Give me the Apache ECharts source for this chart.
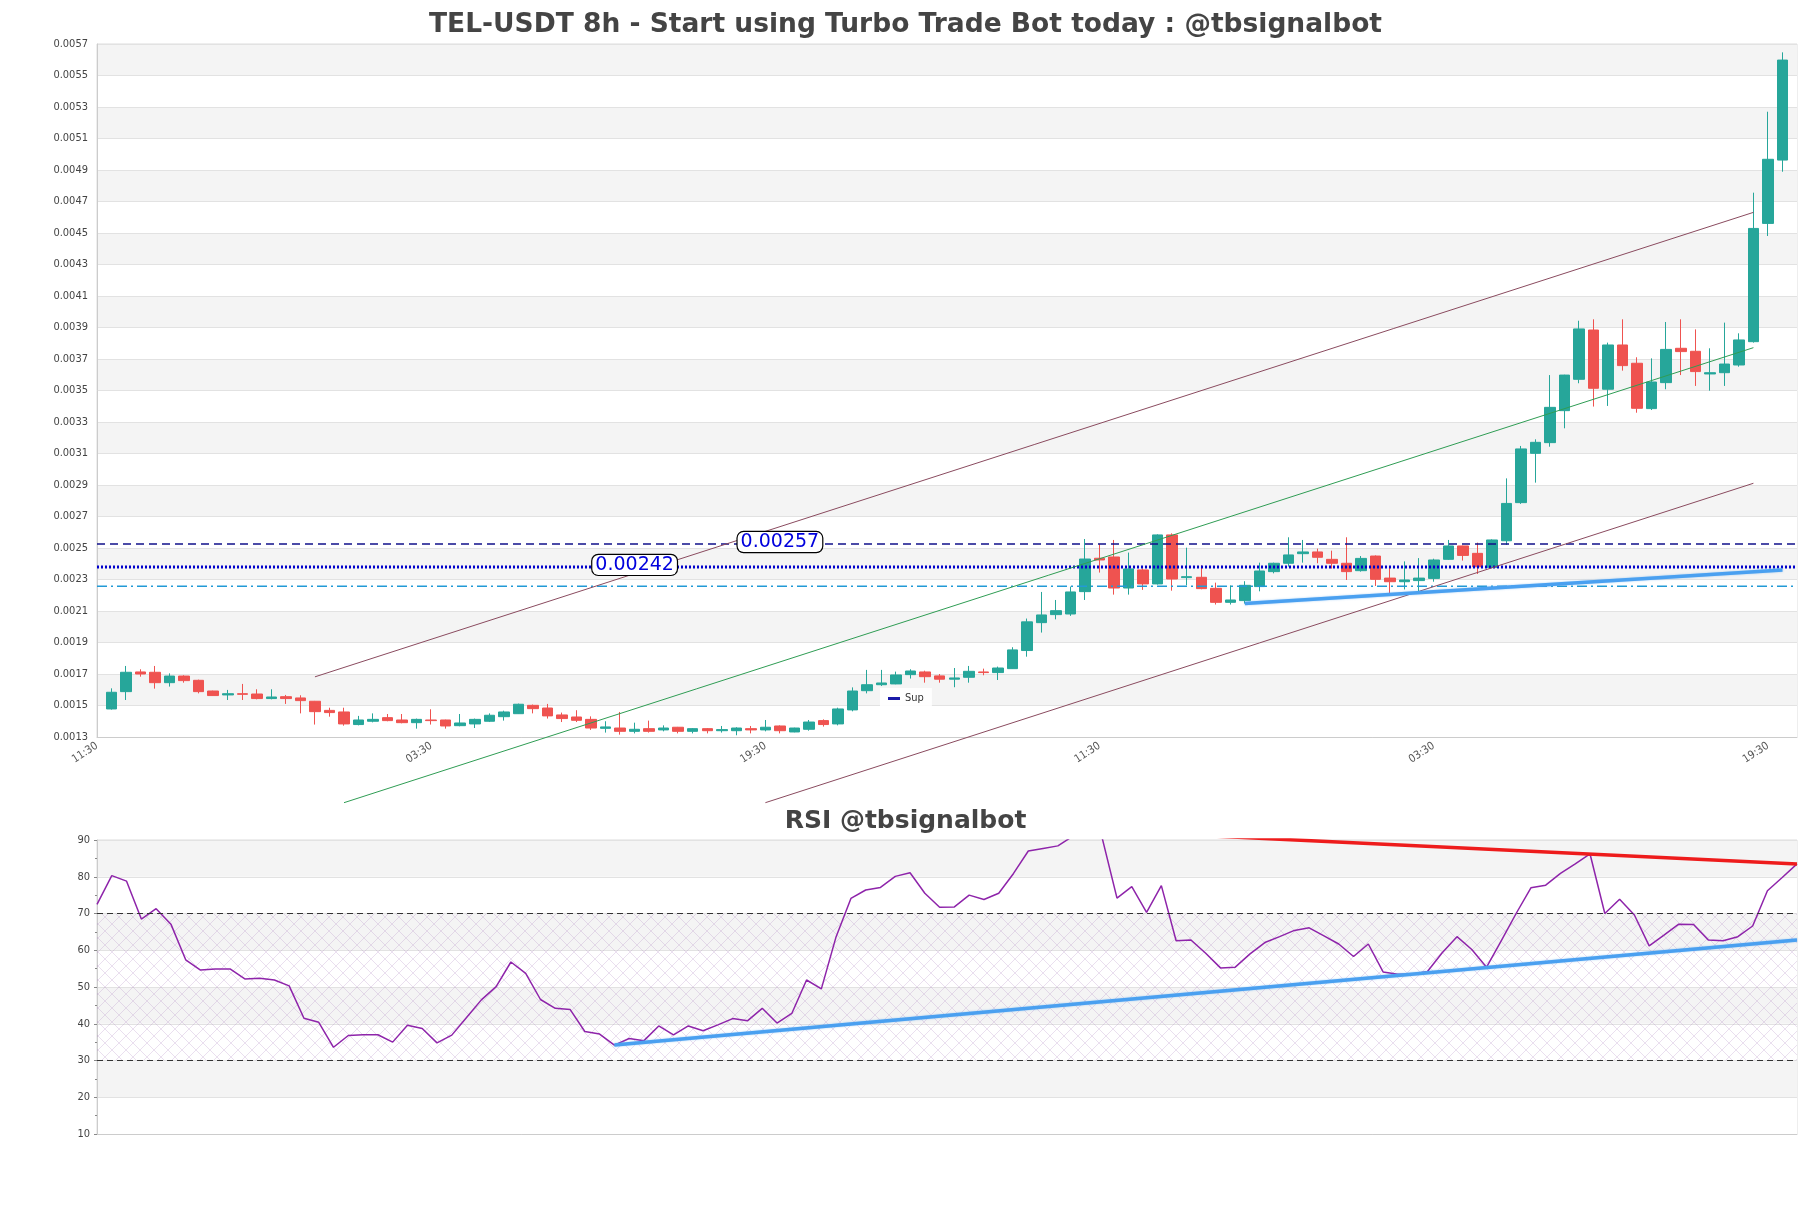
<!DOCTYPE html>
<html>
<head>
<meta charset="utf-8">
<title>TEL-USDT 8h</title>
<script src="https://cdn.jsdelivr.net/npm/echarts@6/dist/echarts.min.js"></script>
<style>
  html, body { margin: 0; padding: 0; background: #fff; }
  #main { width: 1811px; height: 1208px; }
</style>
</head>
<body>
<div id="main"></div>
<script>
// 8h candles
var opens = [0.001478,0.001588,0.001713,0.001711,0.001645,0.001687,0.001660,0.001592,0.001567,0.001575,
  0.001573,0.001544,0.001556,0.001548,0.001527,0.001469,0.001459,0.001379,0.001400,0.001423,
  0.001408,0.001391,0.001408,0.001408,0.001372,0.001383,0.001400,0.001429,0.001448,0.001501,
  0.001484,0.001440,0.001427,0.001412,0.001355,0.001357,0.001336,0.001353,0.001345,0.001362,
  0.001336,0.001353,0.001340,0.001340,0.001353,0.001345,0.001370,0.001332,0.001349,0.001404,
  0.001383,0.001472,0.001594,0.001632,0.001637,0.001696,0.001713,0.001688,0.001667,0.001679,
  0.001713,0.001709,0.001734,0.001849,0.002026,0.002077,0.002081,0.002223,0.002435,0.002443,
  0.002246,0.002361,0.002272,0.002583,0.002312,0.002314,0.002244,0.002155,0.002166,0.002255,
  0.002350,0.002403,0.002464,0.002475,0.002428,0.002403,0.002356,0.002449,0.002309,0.002286,
  0.002293,0.002307,0.002428,0.002513,0.002466,0.002377,0.002546,0.002788,0.003101,0.003169,
  0.003372,0.003571,0.003884,0.003508,0.003789,0.003673,0.003385,0.003550,0.003768,0.003749,
  0.003605,0.003613,0.003662,0.003810,0.004561,0.004963];
var closes = [0.001584,0.001711,0.001700,0.001645,0.001687,0.001658,0.001588,0.001563,0.001575,0.001571,
  0.001544,0.001554,0.001544,0.001531,0.001461,0.001455,0.001383,0.001408,0.001412,0.001404,
  0.001391,0.001412,0.001404,0.001370,0.001389,0.001412,0.001438,0.001459,0.001508,0.001480,
  0.001434,0.001417,0.001406,0.001357,0.001364,0.001336,0.001349,0.001336,0.001357,0.001336,
  0.001353,0.001340,0.001347,0.001357,0.001345,0.001362,0.001340,0.001357,0.001395,0.001379,
  0.001478,0.001592,0.001632,0.001643,0.001694,0.001719,0.001683,0.001667,0.001675,0.001717,
  0.001709,0.001738,0.001853,0.002031,0.002075,0.002102,0.002221,0.002430,0.002424,0.002246,
  0.002367,0.002272,0.002583,0.002303,0.002318,0.002242,0.002155,0.002170,0.002263,0.002354,
  0.002403,0.002456,0.002475,0.002441,0.002403,0.002350,0.002434,0.002301,0.002286,0.002297,
  0.002309,0.002424,0.002513,0.002453,0.002381,0.002551,0.002783,0.003129,0.003171,0.003393,
  0.003598,0.003891,0.003514,0.003789,0.003658,0.003387,0.003554,0.003761,0.003747,0.003620,
  0.003613,0.003668,0.003821,0.004529,0.004968,0.005598];
var lows = [0.001474,0.001535,0.001683,0.001607,0.001620,0.001645,0.001577,0.001561,0.001535,0.001535,
  0.001539,0.001539,0.001510,0.001450,0.001379,0.001429,0.001372,0.001374,0.001393,0.001400,
  0.001387,0.001353,0.001379,0.001353,0.001368,0.001357,0.001395,0.001404,0.001446,0.001450,
  0.001417,0.001395,0.001395,0.001345,0.001328,0.001315,0.001323,0.001328,0.001336,0.001323,
  0.001323,0.001323,0.001328,0.001311,0.001323,0.001336,0.001323,0.001330,0.001340,0.001366,
  0.001374,0.001463,0.001577,0.001624,0.001635,0.001671,0.001645,0.001645,0.001616,0.001645,
  0.001692,0.001662,0.001732,0.001810,0.001963,0.002047,0.002069,0.002170,0.002344,0.002204,
  0.002204,0.002234,0.002268,0.002229,0.002263,0.002238,0.002141,0.002141,0.002147,0.002225,
  0.002339,0.002382,0.002407,0.002403,0.002369,0.002297,0.002350,0.002259,0.002208,0.002237,
  0.002223,0.002286,0.002424,0.002420,0.002335,0.002371,0.002519,0.002780,0.002915,0.003143,
  0.003260,0.003546,0.003398,0.003402,0.003626,0.003359,0.003376,0.003508,0.003598,0.003529,
  0.003499,0.003529,0.003651,0.003804,0.004481,0.004889];
var highs = [0.001609,0.001751,0.001730,0.001751,0.001704,0.001692,0.001664,0.001594,0.001599,0.001637,
  0.001603,0.001603,0.001567,0.001565,0.001529,0.001486,0.001486,0.001434,0.001450,0.001446,
  0.001446,0.001417,0.001476,0.001410,0.001446,0.001417,0.001450,0.001467,0.001512,0.001506,
  0.001510,0.001455,0.001470,0.001431,0.001400,0.001459,0.001391,0.001404,0.001374,0.001364,
  0.001357,0.001357,0.001370,0.001362,0.001370,0.001408,0.001374,0.001359,0.001408,0.001412,
  0.001486,0.001615,0.001726,0.001726,0.001715,0.001730,0.001721,0.001700,0.001738,0.001751,
  0.001734,0.001747,0.001870,0.002052,0.002221,0.002170,0.002255,0.002557,0.002526,0.002551,
  0.002471,0.002369,0.002587,0.002593,0.002502,0.002390,0.002280,0.002263,0.002289,0.002407,
  0.002407,0.002568,0.002551,0.002496,0.002483,0.002568,0.002449,0.002453,0.002381,0.002415,
  0.002436,0.002432,0.002551,0.002515,0.002534,0.002555,0.002942,0.003148,0.003190,0.003598,
  0.003600,0.003943,0.003952,0.003804,0.003952,0.003711,0.003704,0.003935,0.003952,0.003888,
  0.003768,0.003931,0.003863,0.004756,0.005270,0.005647];

// RSI, one value per candle
var rsi = [72.5,80.3,78.8,68.5,71.3,67.1,57.4,54.6,54.9,54.9,52.2,52.4,51.9,50.3,41.5,40.4,33.6,36.8,37.0,37.0,
  35.0,39.6,38.7,34.8,36.9,41.7,46.5,50.1,56.8,53.7,46.6,44.2,43.9,37.9,37.2,34.2,36.0,35.4,39.4,37.0,
  39.4,38.1,39.7,41.4,40.8,44.2,40.2,42.8,51.9,49.5,63.7,74.1,76.4,77.1,80.1,81.1,75.5,71.7,71.8,75.0,
  73.8,75.5,80.9,87.0,87.7,88.4,91.0,92.7,90.5,74.2,77.3,70.3,77.6,62.6,62.8,59.2,55.2,55.4,59.0,62.1,
  63.7,65.4,66.1,63.9,61.7,58.3,61.7,54.1,53.5,53.5,54.2,59.3,63.7,60.2,55.4,62.6,70.0,77.0,77.7,80.9,
  83.5,86.2,70.0,73.9,69.6,61.2,64.1,67.1,67.0,62.8,62.6,63.7,66.6,76.2,79.8,83.5];

var hours = ['11:30', '19:30', '03:30'];

// trend lines: [category, value]
var upperChannel = [[15, 0.001682], [114, 0.004631]];
var midChannel = [[17, 0.000883], [114, 0.003772]];
var lowerChannel = [[46, 0.000883], [114, 0.002911]];
var supLine = [[79, 0.002147], [116, 0.00236]];
var levelLines = [0.002525, 0.00238, 0.002257];
var levelLabels = ['0.00257', '0.00242'];
var rsiSupport = [[35, 34.2], [115, 62.8]];
var rsiResist = [[67, 92.7], [115, 83.5]];

var categories = [];
for (var i = 0; i < opens.length + 2; i++) categories.push(hours[i % 3]);
var lastCat = categories.length - 1;
var candles = ['-'];
opens.forEach(function (o, k) {
  candles.push([o, closes[k], lows[k], highs[k]]);
});
candles.push('-');
var rsiCats = rsi.map(function (v, k) { return hours[(k + 1) % 3]; });

function hatch() {
  var c = document.createElement('canvas');
  c.width = 14; c.height = 14;
  var g = c.getContext('2d');
  g.strokeStyle = 'rgba(175,135,195,0.45)';
  g.lineWidth = 0.6;
  g.beginPath();
  g.moveTo(0, 0); g.lineTo(14, 14);
  g.moveTo(14, 0); g.lineTo(0, 14);
  g.stroke();
  return c;
}

function level(name, v, style) {
  return { name: name, type: 'line', xAxisIndex: 0, yAxisIndex: 0, symbol: 'none', silent: true,
    data: [[0, v], [lastCat, v]], lineStyle: style };
}

var labelStyle = {
  show: true, position: 'inside', offset: [0, -2],
  fontFamily: 'DejaVu Sans', fontSize: 19, color: '#0000dd',
  backgroundColor: '#fff', borderColor: '#000', borderWidth: 1.2, borderRadius: 6,
  padding: [1, 3, 0, 3],
  formatter: function (p) { return p.name; }
};

var axisFont = 'DejaVu Sans Condensed, DejaVu Sans, sans-serif';
var myChart = echarts.init(document.getElementById('main'));
var option = {
  animation: false,
  backgroundColor: '#fff',
  title: [
    { text: 'TEL-USDT 8h - Start using Turbo Trade Bot today : @tbsignalbot', left: 'center', top: 7,
      textStyle: { fontFamily: 'DejaVu Sans', fontWeight: 'bold', fontSize: 26.5, color: '#444' } },
    { text: 'RSI @tbsignalbot', left: 'center', top: 804,
      textStyle: { fontFamily: 'DejaVu Sans', fontWeight: 'bold', fontSize: 25, color: '#444' } }
  ],
  legend: {
    data: [{ name: 'Sup', itemStyle: { color: '#1a1aa8' } }],
    left: 880, top: 688,
    icon: 'rect', itemWidth: 12, itemHeight: 3,
    backgroundColor: 'rgba(255,255,255,0.9)',
    padding: [5, 8],
    textStyle: { fontFamily: axisFont, fontSize: 11, color: '#333' }
  },
  grid: [
    { left: 97, right: 14, top: 44, height: 693, show: true, borderColor: '#ddd', backgroundColor: 'transparent' },
    { left: 97, right: 14, top: 840, height: 294, show: true, borderColor: '#ddd', backgroundColor: 'transparent' }
  ],
  xAxis: [
    { type: 'category', gridIndex: 0, data: categories, boundaryGap: false,
      axisLine: { lineStyle: { color: '#ccc' } },
      axisTick: { show: false },
      axisLabel: { interval: 22, rotate: 33, fontFamily: axisFont, fontSize: 11, color: '#555', margin: 8 },
      splitLine: { show: false } },
    { type: 'category', gridIndex: 1, data: rsiCats, boundaryGap: false,
      axisLine: { lineStyle: { color: '#ccc' } },
      axisTick: { show: false }, axisLabel: { show: false }, splitLine: { show: false } }
  ],
  yAxis: [
    { type: 'value', gridIndex: 0, min: 0.0013, max: 0.0057, interval: 0.0002,
      axisLine: { show: true, lineStyle: { color: '#ccc' } },
      axisTick: { show: false },
      axisLabel: { fontFamily: axisFont, fontSize: 11, color: '#444', margin: 9,
        formatter: function (v) { return v.toFixed(4); } },
      splitLine: { lineStyle: { color: '#e2e2e2' } },
      splitArea: { show: true, areaStyle: { color: ['#ffffff', '#f4f4f4'] } } },
    { type: 'value', gridIndex: 1, min: 10, max: 90, interval: 10,
      axisLine: { show: true, lineStyle: { color: '#ccc' } },
      axisTick: { show: true, length: 3, lineStyle: { color: '#888' } },
      minorTick: { show: true, splitNumber: 2, length: 2, lineStyle: { color: '#888' } },
      axisLabel: { fontFamily: axisFont, fontSize: 11, color: '#444', margin: 7 },
      splitLine: { lineStyle: { color: '#e2e2e2' } },
      splitArea: { show: true, areaStyle: { color: ['#ffffff', '#f4f4f4'] } } }
  ],
  series: [
    {
      name: 'TEL-USDT', type: 'candlestick', xAxisIndex: 0, yAxisIndex: 0,
      data: candles, barWidth: 11,
      itemStyle: { color: '#26a69a', color0: '#ef5350', borderColor: '#26a69a', borderColor0: '#ef5350', borderWidth: 1 }
    },
    level('res', levelLines[0], { color: '#10108a', type: [8, 5], width: 1.6 }),
    level('pivot', levelLines[1], { color: '#0000cc', type: [2, 2], width: 3 }),
    level('sup2', levelLines[2], { color: '#229ad6', type: [10, 4, 2, 4], width: 1.5 }),
    { name: 'upper', type: 'line', xAxisIndex: 0, yAxisIndex: 0, data: upperChannel, clip: false,
      symbol: 'none', lineStyle: { color: '#8a4b5f', width: 1 } },
    { name: 'mid', type: 'line', xAxisIndex: 0, yAxisIndex: 0, data: midChannel, clip: false,
      symbol: 'none', lineStyle: { color: '#2f9d54', width: 1 } },
    { name: 'lower', type: 'line', xAxisIndex: 0, yAxisIndex: 0, data: lowerChannel, clip: false,
      symbol: 'none', lineStyle: { color: '#8a4b5f', width: 1 } },
    { name: 'Sup', type: 'line', xAxisIndex: 0, yAxisIndex: 0, data: supLine,
      symbol: 'none', lineStyle: { color: '#4aa0f0', width: 3.5, shadowBlur: 2, shadowColor: 'rgba(74,160,240,0.5)' },
      markPoint: {
        symbol: 'rect', symbolSize: 1, itemStyle: { color: 'transparent' },
        label: labelStyle,
        data: [
          { name: levelLabels[0], coord: [47, levelLines[0]] },
          { name: levelLabels[1], coord: [37, levelLines[1]] }
        ]
      } },
    {
      name: 'RSI', type: 'line', xAxisIndex: 1, yAxisIndex: 1, data: rsi,
      symbol: 'none', lineStyle: { color: '#8e24aa', width: 1.5 },
      markArea: {
        silent: true,
        itemStyle: { color: { image: hatch(), repeat: 'repeat' } },
        data: [[{ yAxis: 30 }, { yAxis: 70 }]]
      },
      markLine: {
        silent: true, symbol: 'none', label: { show: false },
        lineStyle: { color: '#333', type: [6, 4], width: 1 },
        data: [{ yAxis: 70 }, { yAxis: 30 }]
      }
    },
    { name: 'rsiSupport', type: 'line', xAxisIndex: 1, yAxisIndex: 1, data: rsiSupport,
      symbol: 'none', lineStyle: { color: '#4aa0f0', width: 3.5, shadowBlur: 2, shadowColor: 'rgba(74,160,240,0.5)' } },
    { name: 'rsiResist', type: 'line', xAxisIndex: 1, yAxisIndex: 1, data: rsiResist,
      symbol: 'none', lineStyle: { color: '#ee1c1c', width: 3.5 } }
  ]
};
myChart.setOption(option);
</script>
</body>
</html>
